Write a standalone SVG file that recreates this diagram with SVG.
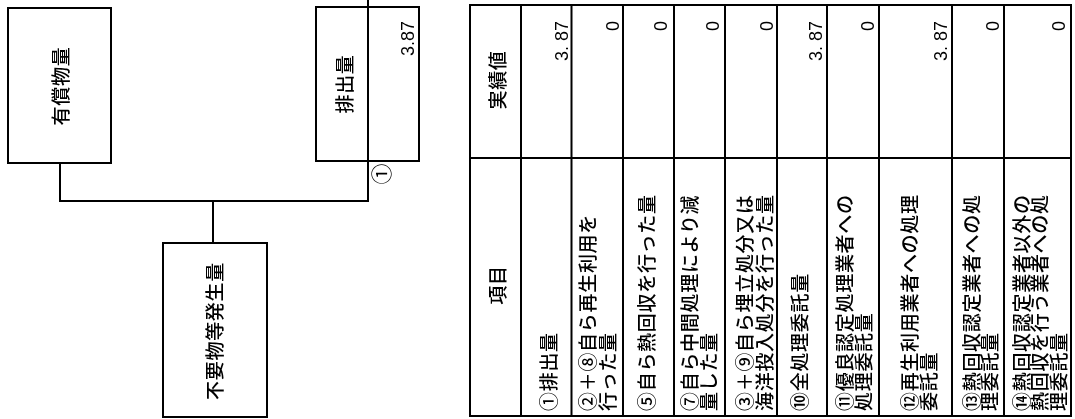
<svg xmlns="http://www.w3.org/2000/svg" width="1075" height="419" viewBox="0 0 1075 419">
<defs>
<filter id="gray" x="0" y="0" width="100%" height="100%"><feColorMatrix type="saturate" values="0"/></filter>
</defs>
<style>
.bg{fill:#fff}
.box{fill:none;stroke:#000;stroke-width:2}
.ln{fill:none;stroke:#000;stroke-width:2}
.j{font-family:"Noto Sans CJK JP","Noto Sans CJK SC",sans-serif;font-size:19px;font-weight:500;letter-spacing:0.7px;fill:#000;dominant-baseline:central}
.jc{text-anchor:middle}
.n{font-family:"Liberation Sans",Arial,sans-serif;font-size:18px;fill:#000;text-anchor:end}
.c{font-family:"Noto Sans CJK JP",sans-serif;font-size:21px;fill:#000;text-anchor:middle;dominant-baseline:central}
</style>
<g filter="url(#gray)">
<rect class="bg" x="0" y="0" width="1075" height="419"/>

<g id="connectors">
<polyline class="ln" points="60,163 60,201 368,201 368,0"/>
<line class="ln" x1="213" y1="201" x2="213" y2="243"/>
</g>

<g id="node-yushobutsu">
<rect class="box" x="8" y="8" width="103" height="155"/>
<text class="j jc" transform="translate(59,86) rotate(-90)">有償物量</text>
</g>

<g id="node-haishutsu">
<rect class="box" x="316" y="7" width="103" height="154"/>
<text class="j jc" transform="translate(343,84) rotate(-90)">排出量</text>
<text class="n" transform="translate(414,21) rotate(-90)">3.87</text>
<text class="c" transform="translate(380,174) rotate(-90)">①</text>
</g>

<g id="node-fuyobutsu">
<rect class="box" x="163" y="243" width="104" height="174"/>
<text class="j jc" transform="translate(213,331) rotate(-90)">不要物等発生量</text>
</g>

<g id="table">
<rect class="box" x="470" y="5" width="601" height="411"/>
<line class="ln" x1="470" y1="158" x2="1071" y2="158"/>
<g class="ln">
<line x1="521" y1="5" x2="521" y2="416"/>
<line x1="571.5" y1="5" x2="571.5" y2="416"/>
<line x1="623" y1="5" x2="623" y2="416"/>
<line x1="674" y1="5" x2="674" y2="416"/>
<line x1="725" y1="5" x2="725" y2="416"/>
<line x1="777" y1="5" x2="777" y2="416"/>
<line x1="827" y1="5" x2="827" y2="416"/>
<line x1="879" y1="5" x2="879" y2="416"/>
<line x1="952" y1="5" x2="952" y2="416"/>
<line x1="1004" y1="5" x2="1004" y2="416"/>
</g>
<g id="header">
<text class="j jc" transform="translate(496,285) rotate(-90)">項目</text>
<text class="j jc" transform="translate(496,80) rotate(-90)">実績値</text>
</g>
<g id="row1">
<text class="j" transform="translate(547,411) rotate(-90)">①排出量</text>
<text class="n" transform="translate(568,21) rotate(-90)">3. 87</text>
</g>
<g id="row2">
<text class="j" transform="translate(586,411) rotate(-90)">②＋⑧自ら再生利用を</text>
<text class="j" transform="translate(606,411) rotate(-90)">行った量</text>
<text class="n" transform="translate(619,21) rotate(-90)">0</text>
</g>
<g id="row3">
<text class="j" transform="translate(645,411) rotate(-90)">⑤自ら熱回収を行った量</text>
<text class="n" transform="translate(667,21) rotate(-90)">0</text>
</g>
<g id="row4">
<text class="j" transform="translate(688,411) rotate(-90)">⑦自ら中間処理により減</text>
<text class="j" transform="translate(707,411) rotate(-90)">量した量</text>
<text class="n" transform="translate(719,21) rotate(-90)">0</text>
</g>
<g id="row5">
<text class="j" transform="translate(743,411) rotate(-90)">③＋⑨自ら埋立処分又は</text>
<text class="j" transform="translate(763,411) rotate(-90)">海洋投入処分を行った量</text>
<text class="n" transform="translate(773,21) rotate(-90)">0</text>
</g>
<g id="row6">
<text class="j" transform="translate(798,411) rotate(-90)">⑩全処理委託量</text>
<text class="n" transform="translate(822,21) rotate(-90)">3. 87</text>
</g>
<g id="row7">
<text class="j" transform="translate(843,411) rotate(-90)">⑪優良認定処理業者への</text>
<text class="j" transform="translate(862,411) rotate(-90)">処理委託量</text>
<text class="n" transform="translate(874,21) rotate(-90)">0</text>
</g>
<g id="row8">
<text class="j" transform="translate(908,411) rotate(-90)">⑫再生利用業者への処理</text>
<text class="j" transform="translate(927,411) rotate(-90)">委託量</text>
<text class="n" transform="translate(947,21) rotate(-90)">3. 87</text>
</g>
<g id="row9">
<text class="j" transform="translate(970,411) rotate(-90)">⑬熱回収認定業者への処</text>
<text class="j" transform="translate(988,411) rotate(-90)">理委託量</text>
<text class="n" transform="translate(999,21) rotate(-90)">0</text>
</g>
<g id="row10">
<text class="j" transform="translate(1020,411) rotate(-90)">⑭熱回収認定業者以外の</text>
<text class="j" transform="translate(1038,411) rotate(-90)">熱回収を行う業者への処</text>
<text class="j" transform="translate(1057,411) rotate(-90)">理委託量</text>
<text class="n" transform="translate(1065,21) rotate(-90)">0</text>
</g>
</g>
</g>
</svg>
